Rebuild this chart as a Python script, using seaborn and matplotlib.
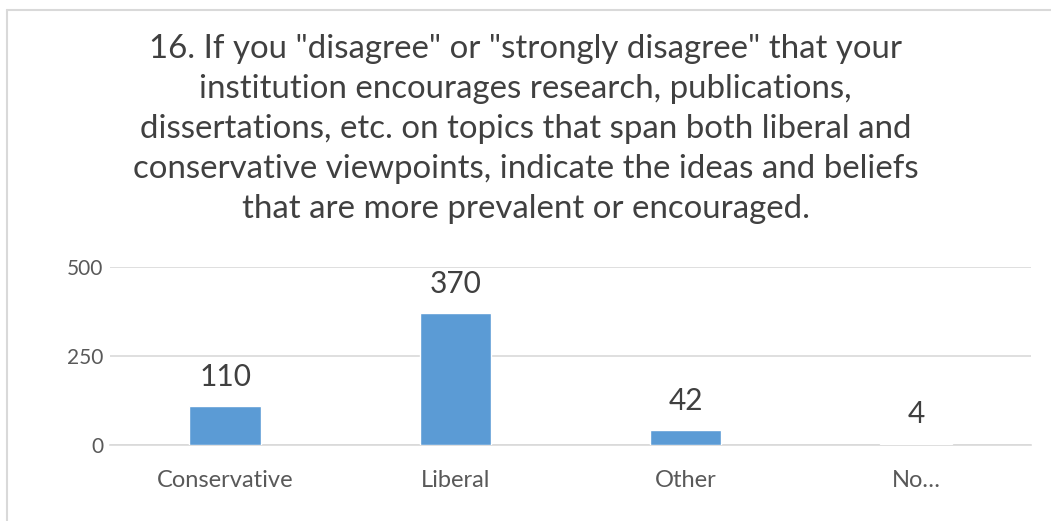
import matplotlib.pyplot as plt
import seaborn as sns
import pandas as pd

# Data
categories = ["Conservative", "Liberal", "Other", "No\u2026"]
counts = [110, 370, 42, 4]
yticks = [0, 250, 500]
title = ('16. If you "disagree" or "strongly disagree" that your\n'
         'institution encourages research, publications,\n'
         'dissertations, etc. on topics that span both liberal and\n'
         'conservative viewpoints, indicate the ideas and beliefs\n'
         'that are more prevalent or encouraged.')

df = pd.DataFrame({"category": categories, "count": counts})

sns.set_theme(style="white")
plt.rcParams['font.family'] = ['Lato', 'DejaVu Sans']

fig = plt.figure(figsize=(10.51, 5.21), dpi=100)
ax = fig.add_axes([110 / 1051, 1 - 445 / 521, 921 / 1051, 178 / 521])

sns.barplot(data=df, x="category", y="count", color="#5B9BD5",
            width=0.31, saturation=1, ax=ax, zorder=3)

ax.set_ylim(0, 500)
ax.set_xlim(-0.5, 3.5)
ax.set_yticks(yticks)
ax.yaxis.grid(True, color="#D9D9D9", linewidth=1.2)
ax.set_axisbelow(True)
for s in ["top", "right", "left"]:
    ax.spines[s].set_visible(False)
ax.spines["bottom"].set_color("#D9D9D9")
ax.spines["bottom"].set_linewidth(1.2)
ax.spines["bottom"].set_zorder(0.5)
ax.tick_params(axis="both", length=0, colors="#595959")
ax.tick_params(axis="y", pad=5, labelsize=15)
ax.tick_params(axis="x", pad=18, labelsize=17)
ax.set_xlabel("")
ax.set_ylabel("")

for i, v in enumerate(counts):
    ax.annotate(f"{v}", xy=(i, v), xytext=(0, 11), textcoords="offset points",
                ha="center", va="bottom", fontsize=21.5, color="#404040")

fig.text(0.5, 1 - 129 / 521, title, ha="center", va="center",
         fontsize=23.8, color="#404040", linespacing=1.42)

# chart frame (cropped at the right and bottom)
fig.add_artist(plt.Line2D([7 / 1051, 7 / 1051], [0, 1 - 10 / 521],
                          transform=fig.transFigure, color="#D9D9D9", linewidth=1.5))
fig.add_artist(plt.Line2D([7 / 1051, 1], [1 - 10 / 521, 1 - 10 / 521],
                          transform=fig.transFigure, color="#D9D9D9", linewidth=1.5))

plt.savefig("out.png", dpi=100)
